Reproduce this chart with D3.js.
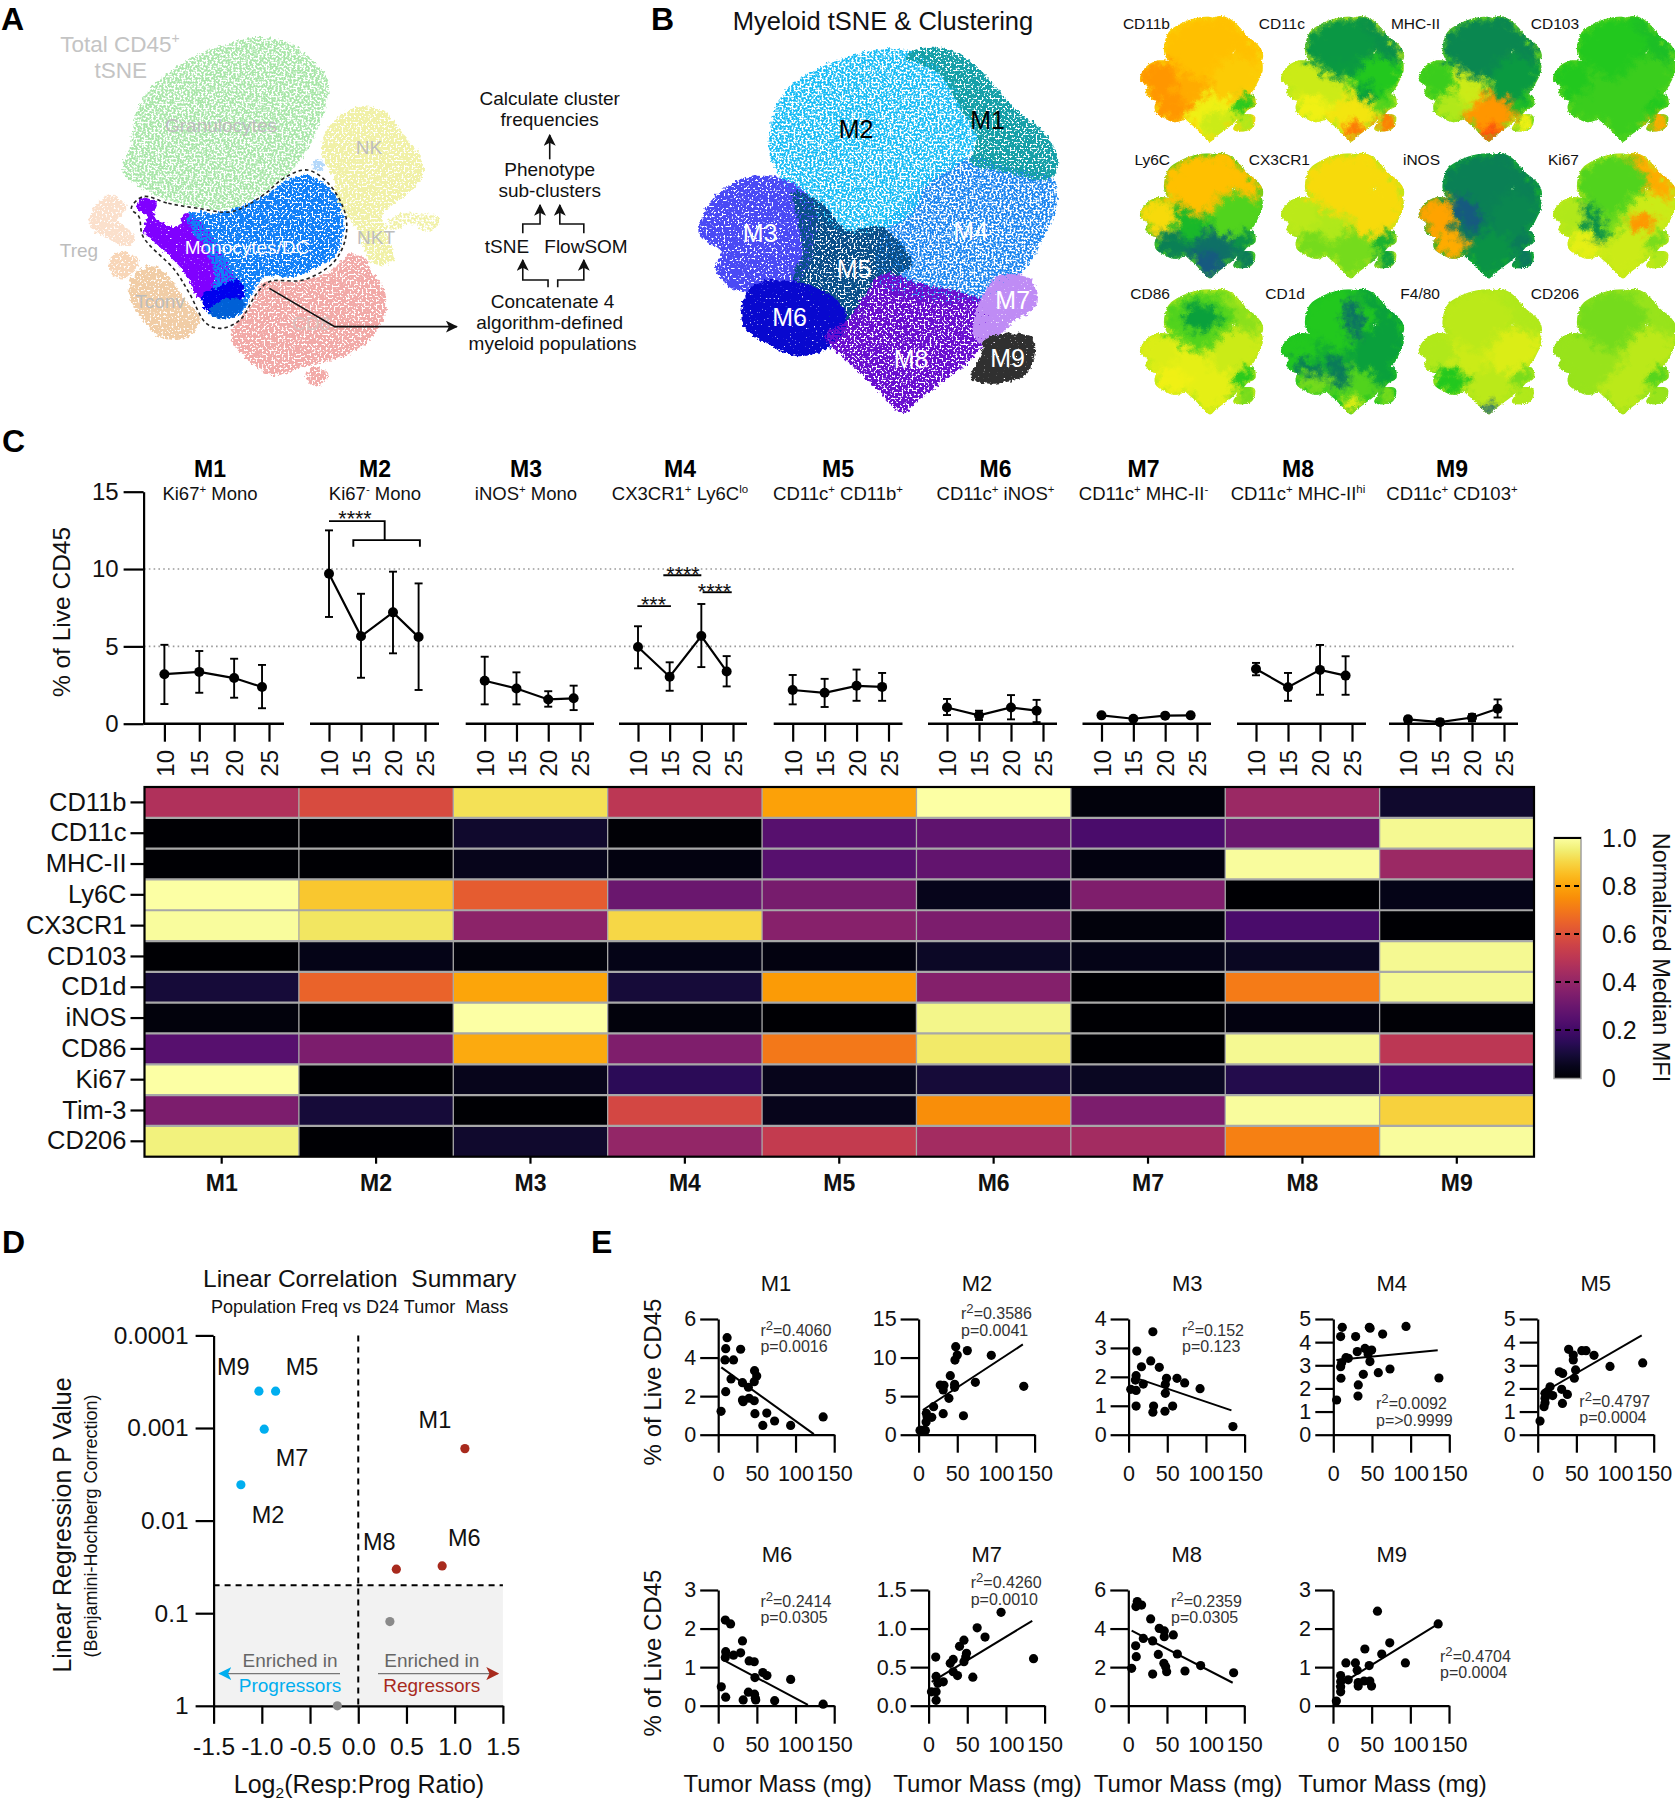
<!DOCTYPE html>
<html><head><meta charset="utf-8">
<script src="https://cdn.jsdelivr.net/npm/d3@7/dist/d3.min.js"></script>
<style>html,body{margin:0;background:#fff}svg{display:block}text{font-family:"Liberation Sans",Arial,sans-serif}</style>
</head><body><div id="chart"></div>
<script>
// ---------- DATA ----------
const clusters = ["M1","M2","M3","M4","M5","M6","M7","M8","M9"];
const subtitles = ["Ki67^+^ Mono","Ki67^-^ Mono","iNOS^+^ Mono","CX3CR1^+^ Ly6C^lo^","CD11c^+^ CD11b^+^","CD11c^+^ iNOS^+^","CD11c^+^ MHC-II^-^","CD11c^+^ MHC-II^hi^","CD11c^+^ CD103^+^"];
const doses = [10,15,20,24];
const doseTicks = [10,15,20,25];
const freqMean = [[3.2,3.35,2.95,2.37],[9.7,5.65,7.2,5.6],[2.78,2.28,1.57,1.64],[4.96,3.04,5.67,3.38],[2.18,2.0,2.45,2.38],[1.05,.54,1.05,.84],[.54,.32,.52,.54],[3.54,2.36,3.48,3.11],[.28,.1,.4,.97]];
const freqHi = [[5.1,4.7,4.2,3.8],[12.5,8.4,9.83,9.07],[4.33,3.32,2.1,2.46],[6.3,3.97,7.74,4.37],[3.15,2.9,3.5,3.28],[1.6,.84,1.85,1.54],[.62,.38,.58,.6],[3.93,3.28,5.09,4.36],[.45,.28,.62,1.57]];
const freqLo = [[1.27,2.0,1.68,1.0],[6.9,2.97,4.55,2.18],[1.25,1.25,1.1,.88],[3.58,2.13,3.66,2.41],[1.25,1.08,1.48,1.48],[.56,.24,.28,.1],[.46,.26,.46,.48],[3.13,1.48,1.87,1.87],[.06,-.05,.15,.4]];
const markers = ["CD11b","CD11c","MHC-II","Ly6C","CX3CR1","CD103","CD1d","iNOS","CD86","Ki67","Tim-3","CD206"];
const heatValues = [
 [.47,.58,.92,.5,.79,1,.02,.42,.08],
 [0,0,.08,.01,.25,.27,.22,.3,.98],
 [0,0,.05,.03,.25,.28,.03,.99,.42],
 [1,.87,.63,.3,.33,.05,.35,0,.04],
 [.99,.93,.38,.9,.37,.34,.02,.22,0],
 [0,.04,.02,.04,.03,.07,.04,.06,.98],
 [.1,.65,.8,.1,.78,.36,0,.71,.98],
 [.02,0,1,.02,0,.97,0,.03,.01],
 [.25,.34,.81,.35,.7,.94,0,.98,.5],
 [1,0,.05,.15,.05,.1,.06,.13,.2],
 [.34,.1,0,.57,.05,.75,.34,.99,.89],
 [.96,0,.08,.4,.52,.44,.44,.72,.99]];
const colorbarTicks = [0,.2,.4,.6,.8,1];
// Panel D
const volcanoBlue = [["M9",-1.03,.0004],["M5",-.857,.0004],["M7",-.975,.00103],["M2",-1.217,.0041]];
const volcanoRed = [["M1",1.106,.00167],["M8",.395,.0335],["M6",.87,.0309]];
const volcanoGrey = [["M3",.328,.123],["M4",-.217,1]];
const volcanoX = [-1.5,-1,-.5,0,.5,1,1.5];
const volcanoY = [1,.1,.01,.001,.0001];
const volcanoYLabels = ["1","0.1","0.01","0.001","0.0001"];
// Panel E
const scatterM1=[[3.7,1.21],[9.7,2.23],[8.8,3.88],[9.7,4.46],[11.5,5.03],[16.6,2.89],[19.8,3.88],[29,4.43],[31.4,2.7],[32.3,1.71],[31.4,1.8],[39,2.46],[40,1.89],[46.6,1.76],[47,3.32],[49.8,3.04],[46.6,2.75],[47.5,1.09],[57.7,.48],[62.8,1.12],[72.9,.71],[93.7,.48],[135.7,.92]];
const scatterM2=[[1.8,.56],[8.8,.56],[4,.56],[9.7,1.64],[11,2.33],[10,2.77],[17,2.25],[19.4,3.63],[28,6.44],[32.8,6.4],[31.8,5.8],[31.8,2.72],[39.2,4.71],[41,7.65],[46.6,6.14],[46.6,6.53],[47,9.68],[50,10.33],[48,11.41],[58,2.46],[63,10.9],[73.4,6.79],[94,10.29],[136,6.27]];
const scatterM3=[[2.8,1.57],[9.7,1.53],[9.7,.99],[9.7,2.04],[10.6,2.89],[8.8,1.89],[16.6,2.35],[19,1.75],[28.6,2.55],[31.4,3.56],[32.3,.99],[31.4,.78],[39.7,2.33],[47.5,1.43],[47.5,1.74],[49,1.95],[47,.81],[57,.99],[62.6,1.95],[72.5,1.79],[92.4,1.59],[134.9,.28]];
const scatterM4=[[4.3,1.5],[11.6,4.64],[9.5,4.24],[9.9,2.44],[9.5,2.94],[10.8,3.11],[16.4,3.33],[19.4,3.3],[28.9,4.24],[31,3.59],[32.3,2.15],[31.9,1.67],[38.8,2.61],[41,3.73],[46.6,4.64],[47.6,4.6],[47.4,3.16],[49.6,3.66],[58.2,2.68],[63.8,4.35],[73.3,2.84],[94,4.68],[136.6,2.45],[45,3.49]];
const scatterM5=[[3,.59],[8.2,1.21],[9.5,1.38],[9.5,1.57],[9.5,1.79],[12.5,1.86],[16,2.07],[19.4,1.69],[28,2.72],[32.3,2.65],[31,1.96],[32,1.35],[38.4,1.74],[40,3.69],[46,3.23],[46,3.44],[47.4,2.44],[49,2.8],[57,3.63],[62.5,3.63],[72.8,3.43],[93.5,2.95],[135.8,3.1]];
const scatterM6=[[4,.49],[9.7,.22],[9.2,2.22],[9.7,1.4],[9.2,1.25],[16,2.12],[19.8,1.31],[29,1.37],[31.4,1.68],[32.3,.15],[39,.35],[40,1.16],[46.6,1.14],[47,.3],[48.5,.15],[47.5,.73],[57.7,.86],[63,.78],[73,.13],[93.7,.68],[135.7,.04],[48,.19]];
const scatterM7=[[3.7,.18],[9.2,.63],[9.7,.38],[9.7,.07],[9.7,.18],[12,.29],[19,.31],[28,.55],[31.8,.6],[31.8,.44],[37.4,.39],[40,.77],[45.7,.85],[45.7,.57],[49,.68],[57.2,.37],[62.8,1.01],[73,.89],[93.7,1.21],[135.7,.61],[48,.63]];
const scatterM8=[[4.3,1.94],[9.5,3.11],[10.3,2.54],[9.9,5.14],[11.6,5.4],[17.2,5.22],[19.4,3.49],[28.9,4.5],[31.5,3.36],[31.5,1.64],[38.8,2.66],[40,4.01],[46.5,3.88],[46.5,3.58],[46,2.2],[48.3,2.02],[49.6,1.76],[58.2,3.67],[63.4,2.68],[73.3,1.8],[93.5,2.08],[136.2,1.71]];
const scatterM9=[[4.3,.12],[9.9,.36],[9.9,.49],[9.9,.62],[9.9,.78],[16.7,1.11],[19.7,.67],[29,1.11],[32.6,.6],[32.6,.51],[31.3,.92],[40.3,.64],[41.2,1.47],[46.8,1.04],[47.6,.64],[49.8,.51],[57.5,2.45],[63,1.34],[73.4,1.63],[93.6,1.11],[136,2.12]];
const scatterData=[scatterM1,scatterM2,scatterM3,scatterM4,scatterM5,scatterM6,scatterM7,scatterM8,scatterM9];
const regLines=[[4,3.49,123.7,.03],[5.5,3.2,134.8,11.7],[6,1.99,133,.84],[4,3.23,135,3.65],[4,1.77,134.5,4.29],[4.6,1.21,116,.02],[4,.31,134,1.1],[4.3,3.89,135,1.19],[4,.49,136,2.12]];
const yTickSets=[[0,2,4,6],[0,5,10,15],[0,1,2,3,4],[0,1,2,3,4,5],[0,1,2,3,4,5],[0,1,2,3],[0,.5,1,1.5],[0,2,4,6],[0,1,2,3]];
const statR=["0.4060","0.3586","0.152","0.0092","0.4797","0.2414","0.4260","0.2359","0.4704"];
const statP=["0.0016","0.0041","0.123",">0.9999","0.0004","0.0305","0.0010","0.0305","0.0004"];
const massTicks=[0,50,100,150];
// Panel A outlines
const outlineGranulocytes=[[590,115],[680,125],[740,180],[780,240],[775,310],[750,400],[735,440],[700,500],[650,560],[610,590],[560,625],[490,625],[400,600],[330,560],[290,510],[310,440],[325,330],[360,260],[420,200],[490,150],[560,125]];
const outlineNK=[[860,318],[920,340],[955,400],[1000,470],[1005,530],[960,590],[910,640],[920,700],[935,780],[890,795],[870,760],[850,690],[810,620],[790,530],[765,450],[780,380],[820,335]];
const outlineNKT=[[950,640],[990,640],[1040,650],[1040,680],[1010,695],[980,670],[940,690],[915,680]];
const outlineCD8=[[830,760],[870,780],[880,810],[915,880],[910,960],[860,1040],[790,1080],[720,1100],[650,1125],[590,1080],[548,1010],[600,910],[625,850],[700,845],[790,810]];
const outlineCD8b=[[745,1100],[780,1125],[755,1160],[725,1130]];
const outlineTconv=[[360,795],[400,830],[440,900],[475,960],[440,1015],[380,1010],[340,960],[310,900],[310,840]];
const outlineTreg=[[260,585],[300,620],[280,660],[320,710],[300,740],[250,710],[215,680],[220,630]];
const outlineTregB=[[290,755],[330,780],[295,835],[265,820],[265,770]];
const outlineBlue=[[730,525],[785,565],[815,650],[800,760],[740,810],[700,830],[630,830],[600,880],[575,940],[530,950],[500,900],[510,830],[490,750],[450,680],[450,640],[520,640],[570,620],[640,580],[680,540]];
const outlinePurple=[[340,595],[372,610],[365,650],[420,680],[440,640],[490,680],[520,740],[540,790],[560,840],[520,880],[470,890],[445,830],[420,790],[370,730],[340,690],[350,650],[325,625]];
const outlineDarkBlue=[[480,885],[520,860],[570,840],[578,890],[530,910],[505,945],[485,920]];
const outlineMidBlue=[[495,935],[530,898],[582,905],[560,948],[510,952]];
const outlinePale=[[755,475],[770,495],[755,515],[742,495]];
const outlineDashed=[[340,590],[400,610],[470,625],[550,635],[620,590],[680,530],[730,510],[780,550],[820,640],[820,720],[790,790],[720,840],[640,845],[610,880],[570,960],[525,985],[490,970],[450,880],[415,810],[340,710],[330,650],[312,625]];
// Panel B outlines
const bClusters={
 M4:[[480,470],[540,500],[605,530],[612,620],[590,720],[570,790],[540,850],[500,900],[400,900],[340,850],[340,700],[380,600],[420,520]],
 M2:[[320,155],[380,150],[430,200],[470,300],[490,420],[470,480],[410,560],[390,640],[340,690],[290,700],[240,650],[200,570],[170,470],[170,390],[190,280],[240,210]],
 M1:[[420,140],[470,170],[510,240],[545,320],[590,390],[615,480],[605,535],[520,510],[480,490],[490,420],[465,330],[430,220],[380,170]],
 M3:[[140,530],[200,545],[240,620],[240,720],[230,800],[200,870],[110,865],[85,800],[95,760],[60,700],[65,650],[90,580]],
 M5:[[205,575],[250,610],[290,690],[340,680],[390,790],[350,850],[330,900],[300,990],[265,960],[230,880],[205,830],[220,760],[215,680]],
 M6:[[150,850],[240,860],[285,930],[285,1000],[255,1050],[210,1068],[170,1035],[130,980],[128,910]],
 M8:[[345,820],[400,850],[470,880],[505,910],[505,1000],[490,1060],[440,1140],[400,1200],[375,1240],[340,1180],[310,1120],[265,1040],[255,1005],[290,960],[315,890]],
 M7:[[520,830],[572,835],[580,920],[545,965],[505,1040],[485,1010],[490,920],[505,870]],
 M9:[[505,1015],[575,1012],[578,1070],[560,1130],[500,1150],[480,1130],[495,1070]]};
const bColors={M2:"#19bcf5",M1:"#16a0a8",M4:"#1b85f0",M3:"#4a4af5",M5:"#0a4f8a",M6:"#0808cf",M8:"#6a0fd0",M7:"#bf8cf5",M9:"#303030"};
const bSpeckle={M2:"speckleHeavy",M1:"speckleMid",M4:"speckleHeavy",M3:"speckleLight",M5:"speckleMid",M6:"speckleSolid",M8:"speckleMid",M7:"speckleSolid",M9:"speckleSolid"};
const miniNames=["CD11b","CD11c","MHC-II","CD103","Ly6C","CX3CR1","iNOS","Ki67","CD86","CD1d","F4/80","CD206"];
const miniValues=[
 [.75,.75,.85,.72,.8,.85,.38,.62,.5],
 [.25,.27,.55,.38,.55,.62,.42,.65,.9],
 [.22,.22,.4,.28,.55,.5,.35,.85,.62],
 [.36,.38,.38,.4,.4,.4,.38,.4,.8],
 [.75,.75,.68,.42,.35,.2,.25,.15,.18],
 [.68,.68,.52,.68,.5,.45,.33,.45,.3],
 [.2,.2,.82,.22,.18,.8,.18,.26,.17],
 [.8,.42,.5,.55,.45,.6,.45,.55,.5],
 [.47,.42,.58,.55,.6,.62,.38,.6,.45],
 [.3,.38,.38,.3,.33,.45,.3,.42,.45],
 [.5,.52,.5,.58,.55,.38,.45,.52,.5],
 [.48,.45,.48,.52,.48,.48,.42,.52,.48]];
// Local features of the marker maps: [map name, value, outline]
const miniPatches=[
 ["Ly6C",.08,[[300,1040],[420,1040],[400,1240],[340,1200]]],
 ["MHC-II",.98,[[340,1130],[440,1130],[380,1240]]],
 ["F4/80",.08,[[340,1170],[420,1170],[380,1240]]],
 ["CD11c",.3,[[400,750],[470,750],[480,860],[410,870]]],
 ["CD11c",.28,[[250,560],[420,560],[400,640],[270,650]]],
 ["CD11c",.92,[[350,1100],[440,1100],[380,1230]]],
 ["CD1d",.16,[[350,240],[400,240],[420,560],[370,560]]],
 ["CD1d",.18,[[280,740],[340,740],[360,1000],[300,1000]]],
 ["CD1d",.2,[[120,760],[200,760],[240,900],[160,900]]],
 ["CD1d",.62,[[340,1120],[420,1120],[380,1230]]],
 ["CD86",.3,[[260,300],[400,300],[400,480],[270,480]]],
 ["Ki67",.25,[[190,600],[240,600],[300,900],[250,900]]],
 ["Ki67",.85,[[400,700],[520,700],[500,800],[420,800]]],
 ["CD11b",.55,[[360,1000],[480,1000],[420,1220],[360,1200]]],
 ["iNOS",.08,[[220,560],[300,560],[340,800],[280,800]]]];

// ---------- SETUP ----------
const W=1675,H=1800;
const svg=d3.select("#chart").append("svg").attr("width",W).attr("height",H).attr("viewBox",`0 0 ${W} ${H}`);
const defs=svg.append("defs");
const FONT_BLACK="#111";
function txt(p,x,y,str,size,o={}){
  const t=p.append("text").attr("x",x).attr("y",y).attr("font-size",size).attr("text-anchor",o.anchor||"middle")
   .attr("fill",o.fill||FONT_BLACK).attr("font-weight",o.bold?"bold":null);
  if(o.rotate!==undefined) t.attr("transform",`rotate(${o.rotate},${x},${y})`);
  const supScale=o.supScale||.62;
  str.split(/(\^[^^]*\^|~[^~]*~)/).filter(s=>s.length).reduce((back,part)=>{
    const sup=part[0]==="^",sub=part[0]==="~";
    const ts=t.append("tspan");
    let dy=back;
    if(sup){ts.text(part.slice(1,-1)).attr("font-size",size*supScale);dy+=-size*.38;back=size*.38;}
    else if(sub){ts.text(part.slice(1,-1)).attr("font-size",size*.62);dy+=size*.2;back=-size*.2;}
    else{ts.text(part);back=0;}
    if(dy) ts.attr("dy",dy);
    return back;
  },0);
  return t;
}
function speckle(id,k,c,seed){
  const f=defs.append("filter").attr("id",id).attr("x","-3%").attr("y","-3%").attr("width","106%").attr("height","106%").attr("color-interpolation-filters","sRGB");
  f.append("feTurbulence").attr("type","fractalNoise").attr("baseFrequency",.28).attr("numOctaves",2).attr("seed",seed+7).attr("result","warp");
  f.append("feDisplacementMap").attr("in","SourceGraphic").attr("in2","warp").attr("scale",7).attr("xChannelSelector","R").attr("yChannelSelector","G").attr("result","rough");
  f.append("feTurbulence").attr("type","fractalNoise").attr("baseFrequency",.5).attr("numOctaves",1).attr("seed",seed).attr("result","n");
  f.append("feColorMatrix").attr("in","n").attr("type","matrix").attr("values",`0 0 0 0 0 0 0 0 0 0 0 0 0 0 0 ${k} 0 0 0 ${c}`).attr("result","mask");
  f.append("feComposite").attr("in","rough").attr("in2","mask").attr("operator","in");
}
speckle("speckleHeavy",12,-5.3,3);
speckle("speckleMid",12,-4.6,5);
speckle("speckleLight",12,-3.9,8);
speckle("speckleSolid",12,-2.6,11);
const mkArrow=(id,col,s)=>defs.append("marker").attr("id",id).attr("viewBox","0 0 10 10").attr("refX",9).attr("refY",5)
  .attr("markerUnits","userSpaceOnUse").attr("markerWidth",s).attr("markerHeight",s).attr("orient","auto")
  .append("path").attr("d","M0,0L10,5L0,10L2.5,5Z").attr("fill",col);
mkArrow("arrBlack","#111",12);mkArrow("arrBlue","#00aeef",13);mkArrow("arrRed","#a82a1d",13);
// panel letters
[["A",1,30],["B",651,30],["C",2,452],["D",2,1253],["E",591,1253]].forEach(d=>txt(svg,d[1],d[2],d[0],32,{anchor:"start",bold:true,fill:"#000"}));

// ---------- PANEL A ----------
const gA=svg.append("g");
const xA=d3.scaleLinear([0,1568],[0,660]),yA=d3.scaleLinear([0,1260],[0,420]);
const lineA=d3.line().x(d=>xA(d[0])).y(d=>yA(d[1])).curve(d3.curveCatmullRomClosed.alpha(.5));
[[outlineGranulocytes,"#a9e6a9","speckleHeavy"],[outlineNK,"#f1f1a8","speckleMid"],[outlineNKT,"#f1f1a8","speckleHeavy"],[outlineCD8,"#f2aaa8","speckleMid"],[outlineCD8b,"#f2aaa8","speckleMid"],
 [outlineTconv,"#f1cda6","speckleLight"],[outlineTreg,"#fbe0cc","speckleLight"],[outlineTregB,"#f8d6b8","speckleLight"],[outlinePale,"#b4d8fa","speckleLight"],
 [outlinePurple,"#8000ff","speckleSolid"],[outlineBlue,"#1280f8","speckleMid"],[outlineDarkBlue,"#0000ee","speckleSolid"],[outlineMidBlue,"#0060d6","speckleSolid"]]
 .forEach(d=>gA.append("path").attr("d",lineA(d[0])).attr("fill",d[1]).attr("filter",`url(#${d[2]})`));
gA.append("path").attr("d",lineA(outlineDashed)).attr("fill","none").attr("stroke","#222").attr("stroke-width",1.6).attr("stroke-dasharray","3.5 3");
[["Total CD45^+^",120,52,22.5,"#c4c4c4"],["tSNE",120.8,78,22.5,"#c4c4c4"],["Granulocytes",221,131.7,19,"#bdbdbd"],["NK",369,154,19,"#bdbdbd"],["NKT",376,244,19,"#bdbdbd"],
 ["Treg",79,257,19,"#bdbdbd"],["Tconv",160,308,19,"#bdbdbd"],["CD8",311,330,19,"#d9c0bd"],["Monocytes/DC",247,254,19,"#fff"]]
 .forEach(d=>txt(gA,d[1],d[2],d[0],d[3],{fill:d[4]}));
[["Calculate cluster",549.7,105],["frequencies",549.7,126],["Phenotype",549.7,175.7],["sub-clusters",549.7,196.7],["tSNE",507,253],["FlowSOM",586,253],["Concatenate 4",552.6,307.7],["algorithm-defined",549.7,329.3],["myeloid populations",552.6,350]]
 .forEach(d=>txt(gA,d[1],d[2],d[0],19));
const lineOpen=d3.line().x(d=>xA(d[0])).y(d=>yA(d[1]));
[[[1306,478],[1306,405]],[[1242,700],[1242,672],[1283,672],[1283,615]],[[1387,700],[1387,672],[1330,672],[1330,615]],[[1302,862],[1302,840],[1242,840],[1242,780]],[[1325,862],[1325,840],[1387,840],[1387,780]],[[640,865],[795,980],[1085,980]]]
 .forEach(d=>gA.append("path").attr("d",lineOpen(d)).attr("fill","none").attr("stroke","#111").attr("stroke-width",1.6).attr("marker-end","url(#arrBlack)"));

// ---------- PANEL B ----------
const gB=svg.append("g");
const xB=d3.scaleLinear([0,1015*1.545],[660,1675]),yB=d3.scaleLinear([0,1260],[0,420]);
const lineB=d3.line().x(d=>xB(d[0])).y(d=>yB(d[1])).curve(d3.curveCatmullRomClosed.alpha(.5));
const bOrder=["M4","M2","M1","M3","M5","M6","M8","M7","M9"];
bOrder.forEach(k=>gB.append("path").attr("d",lineB(bClusters[k])).attr("fill",bColors[k]).attr("filter",`url(#${bSpeckle[k]})`));
txt(gB,883,30,"Myeloid tSNE & Clustering",25.5);
[["M2",856,138,"#000"],["M1",987.5,129,"#000"],["M3",760,241.7,"#fff"],["M4",970.7,240,"#fff"],["M5",854,277.7,"#fff"],["M6",789.5,325.7,"#fff"],["M7",1012.7,309,"#fff"],["M8",911,367.7,"#fff"],["M9",1007.6,367,"#fff"]]
 .forEach(d=>txt(gB,d[1],d[2],d[0],25,{fill:d[3]}));
// mini phenotype maps
const rainbow=d3.scaleLinear().domain([0,.18,.3,.38,.5,.62,.75,.88,1]).range(["#1f3f9f","#0a7a5a","#0aa03c","#22c81e","#b0e81a","#f0f014","#ffc000","#ff8a00","#ff4010"]);
const clipMini=defs.append("clipPath").attr("id","miniClip");
bOrder.forEach(k=>clipMini.append("path").attr("d",lineB(bClusters[k])));
const fm=defs.append("filter").attr("id","miniBlur").attr("filterUnits","userSpaceOnUse").attr("x",660).attr("y",0).attr("width",500).attr("height",460).attr("color-interpolation-filters","sRGB");
fm.append("feGaussianBlur").attr("in","SourceGraphic").attr("stdDeviation",11).attr("result","b");
fm.append("feTurbulence").attr("type","fractalNoise").attr("baseFrequency",.04).attr("numOctaves",4).attr("seed",4).attr("result","t");
fm.append("feDisplacementMap").attr("in","b").attr("in2","t").attr("scale",60).attr("xChannelSelector","R").attr("yChannelSelector","G");
const fr=defs.append("filter").attr("id","miniRough").attr("filterUnits","userSpaceOnUse").attr("x",660).attr("y",0).attr("width",500).attr("height",460).attr("color-interpolation-filters","sRGB");
fr.append("feTurbulence").attr("type","fractalNoise").attr("baseFrequency",.25).attr("numOctaves",2).attr("seed",9).attr("result","t");
fr.append("feDisplacementMap").attr("in","SourceGraphic").attr("in2","t").attr("scale",9).attr("xChannelSelector","R").attr("yChannelSelector","G");
const miniColX=[1140,1281,1418.6,1553],miniRowY=[16,152.7,288.7],miniScale=.343;
const miniLabelRight=[[1170,1305,1440,1579],[1170,1310,1440,1579],[1170,1305,1440,1579]],miniLabelY=[29,165,299];
miniNames.forEach((name,i)=>{
  const c=i%4,r=Math.floor(i/4);
  const g=svg.append("g").attr("transform",`translate(${miniColX[c]-miniScale*xB(60)},${miniRowY[r]-miniScale*yB(140)}) scale(${miniScale})`);
  const clip=g.append("g").attr("filter","url(#miniRough)").append("g").attr("clip-path","url(#miniClip)");
  clip.append("rect").attr("x",660).attr("y",0).attr("width",500).attr("height",460).attr("fill",rainbow(d3.mean(miniValues[i])));
  const inner=clip.append("g").attr("filter","url(#miniBlur)");
  bOrder.forEach(k=>inner.append("path").attr("d",lineB(bClusters[k])).attr("fill",rainbow(miniValues[i][clusters.indexOf(k)])));
  miniPatches.filter(p=>p[0]===name).forEach(p=>inner.append("path").attr("d",lineB(p[2])).attr("fill",rainbow(p[1])));
  txt(svg,miniLabelRight[r][c],miniLabelY[r],name,15.5,{anchor:"end"});
});

// ---------- PANEL C, line plots ----------
const gC=svg.append("g");
const yC=d3.scaleLinear([0,15],[723.7,491.7]);
const groupRange=[[164.4,269],[329,425],[484.7,580],[638,733],[792.7,888.5],[947,1043],[1101.5,1197],[1256,1352],[1408,1504]];
const groupX=groupRange.map(r=>d3.scaleLinear([10,25],r));
const headX=[210,375,526,680,838,995.5,1143.5,1298,1452];
[5,10].forEach(v=>gC.append("line").attr("x1",144).attr("x2",1515).attr("y1",yC(v)).attr("y2",yC(v)).attr("stroke","#9a9a9a").attr("stroke-width",1.6).attr("stroke-dasharray","1.6 3.2"));
const axisStyle=g=>{g.selectAll("path,line").attr("stroke","#000").attr("stroke-width",2.2);g.selectAll("text").attr("fill",FONT_BLACK);};
gC.append("g").attr("transform","translate(143.6,0)").call(d3.axisLeft(yC).tickValues([0,5,10,15]).tickSize(20).tickSizeOuter(0).tickPadding(5)).attr("font-size",24).attr("font-family",null).call(axisStyle);
txt(gC,70,612,"% of Live CD45",24.5,{rotate:-90});
clusters.forEach((m,i)=>{
  const x=groupX[i];
  txt(gC,headX[i],476.7,m,23,{bold:true,fill:"#000"});
  txt(gC,headX[i],500,subtitles[i],18.5);
  const g=gC.append("g");
  const ax=g.append("g").attr("transform",`translate(0,${yC(0)})`).call(d3.axisBottom(x).tickValues(doseTicks).tickSize(18).tickSizeOuter(0)).attr("font-size",24).attr("font-family",null).call(axisStyle);
  ax.select(".domain").remove();
  ax.selectAll("text").attr("text-anchor","end").attr("dy",".36em").attr("x",0).attr("y",0).attr("transform","translate(0,26.3) rotate(-90)");
  g.append("line").attr("x1",i===0?143.6:x(10)-19).attr("x2",i===0?284:x(25)+14).attr("y1",yC(0)).attr("y2",yC(0)).attr("stroke","#000").attr("stroke-width",2.6);
  const pts=doses.map((d,j)=>({d,m:freqMean[i][j],hi:freqHi[i][j],lo:freqLo[i][j]}));
  pts.forEach(p=>{
    g.append("line").attr("x1",x(p.d)).attr("x2",x(p.d)).attr("y1",yC(p.hi)).attr("y2",yC(p.lo)).attr("stroke","#000").attr("stroke-width",1.9);
    [p.hi,p.lo].forEach(v=>g.append("line").attr("x1",x(p.d)-4).attr("x2",x(p.d)+4).attr("y1",yC(v)).attr("y2",yC(v)).attr("stroke","#000").attr("stroke-width",1.9));
  });
  g.append("path").attr("d",d3.line().x(p=>x(p.d)).y(p=>yC(p.m))(pts)).attr("fill","none").attr("stroke","#000").attr("stroke-width",2.2);
  g.selectAll("circle").data(pts).join("circle").attr("cx",p=>x(p.d)).attr("cy",p=>yC(p.m)).attr("r",5).attr("fill","#000");
});
// significance annotations
const lineSig=d3.line().x(d=>groupX[d[0]](d[1])).y(d=>yC(d[2]));
[[[1,10,13.1],[1,18.7,13.1],[1,18.7,11.87]],[[1,13.8,11.44],[1,13.8,11.87],[1,24.2,11.87],[1,24.2,11.44]],[[3,9.9,7.6],[3,15.2,7.6]],[[3,14,9.6],[3,20,9.6]],[[3,20.2,8.5],[3,24.8,8.5]]]
 .forEach(d=>gC.append("path").attr("d",lineSig(d)).attr("fill","none").attr("stroke","#000").attr("stroke-width",1.9));
[["****",355,526],["***",653.5,612],["****",683,581.5],["****",714.5,599]].forEach(d=>txt(gC,d[1],d[2],d[0],21.5));

// ---------- HEATMAP ----------
const gH=svg.append("g");
const hx=d3.scaleBand(clusters,[144.5,1534]),hy=d3.scaleBand(markers,[787,1156.7]);
markers.forEach((r,ri)=>clusters.forEach((c,ci)=>gH.append("rect").attr("x",hx(c)).attr("y",hy(r)).attr("width",hx.bandwidth()).attr("height",hy.bandwidth()).attr("fill",d3.interpolateInferno(heatValues[ri][ci]))));
markers.slice(1).forEach(r=>gH.append("line").attr("x1",144.5).attr("x2",1534).attr("y1",hy(r)).attr("y2",hy(r)).attr("stroke","#a8a8a8").attr("stroke-width",2.2));
clusters.slice(1).forEach(c=>gH.append("line").attr("y1",787).attr("y2",1156.7).attr("x1",hx(c)).attr("x2",hx(c)).attr("stroke","#a8a8a8").attr("stroke-width",1.3));
gH.append("rect").attr("x",144.5).attr("y",787).attr("width",1534-144.5).attr("height",1156.7-787).attr("fill","none").attr("stroke","#000").attr("stroke-width",2.2);
const hl=gH.append("g").attr("transform","translate(144.5,0)").call(d3.axisLeft(hy).tickSize(14).tickSizeOuter(0).tickPadding(4)).attr("font-size",25.5).attr("font-family",null).call(axisStyle);
hl.select(".domain").remove();
const hb=gH.append("g").attr("transform","translate(0,1156.7)").call(d3.axisBottom(hx).tickSize(7).tickSizeOuter(0).tickPadding(11)).attr("font-size",23).attr("font-family",null).attr("font-weight","bold").call(axisStyle);
hb.select(".domain").remove();
// colour bar
const cbY=d3.scaleLinear([0,1],[1078,838]);
const grad=defs.append("linearGradient").attr("id","infernoGrad").attr("x1",0).attr("x2",0).attr("y1",1).attr("y2",0);
d3.range(0,1.001,.05).forEach(t=>grad.append("stop").attr("offset",t).attr("stop-color",d3.interpolateInferno(t)));
gH.append("rect").attr("x",1554).attr("y",837.5).attr("width",27).attr("height",241).attr("fill","url(#infernoGrad)").attr("stroke","#a0a0a0").attr("stroke-width",1.5);
gH.append("line").attr("x1",1554).attr("x2",1581).attr("y1",cbY(1)).attr("y2",cbY(1)).attr("stroke","#000").attr("stroke-width",2);
colorbarTicks.slice(1,-1).forEach(v=>gH.append("line").attr("x1",1556).attr("x2",1581).attr("y1",cbY(v)).attr("y2",cbY(v)).attr("stroke","#000").attr("stroke-width",1.8).attr("stroke-dasharray","5 4"));
colorbarTicks.forEach(v=>txt(gH,1602,cbY(v)+8.5,v===0?"0":v.toFixed(1),25,{anchor:"start"}));
txt(gH,1653,957.5,"Normalized Median MFI",23.5,{rotate:90});

// ---------- PANEL D ----------
const gD=svg.append("g");
const xD=d3.scaleLinear([-1.5,1.5],[213.6,502.9]),yD=d3.scaleLog([1,.0001],[1705.8,1335.4]);
gD.append("rect").attr("x",xD(-1.5)).attr("y",yD(.05)).attr("width",xD(1.5)-xD(-1.5)).attr("height",yD(1)-yD(.05)).attr("fill","#f2f2f2");
gD.append("g").attr("transform",`translate(0,${yD(1)})`).call(d3.axisBottom(xD).tickValues(volcanoX).tickFormat(d=>d3.format(".1f")(d).replace("\u2212","-")).tickSize(18).tickSizeOuter(0).tickPadding(14)).attr("font-size",24.5).attr("font-family",null).call(axisStyle);
gD.append("g").attr("transform",`translate(${xD(-1.5)},0)`).call(d3.axisLeft(yD).tickValues(volcanoY).tickFormat((d,i)=>volcanoYLabels[i]).tickSize(18).tickSizeOuter(0).tickPadding(7)).attr("font-size",24.5).attr("font-family",null).call(axisStyle);
gD.append("line").attr("x1",xD(-1.5)).attr("x2",xD(1.5)).attr("y1",yD(.05)).attr("y2",yD(.05)).attr("stroke","#000").attr("stroke-width",2).attr("stroke-dasharray","6 5");
gD.append("line").attr("x1",xD(0)).attr("x2",xD(0)).attr("y1",yD(.0001)).attr("y2",yD(1)).attr("stroke","#000").attr("stroke-width",2).attr("stroke-dasharray","6 5");
[[volcanoBlue,"#00aeef"],[volcanoRed,"#a82a1d"],[volcanoGrey,"#8a8a8a"]].forEach(s=>s[0].forEach(d=>gD.append("circle").attr("cx",xD(d[1])).attr("cy",yD(d[2])).attr("r",4.6).attr("fill",s[1])));
[["M9",217,1375],["M5",285.7,1375],["M1",418.6,1428],["M7",275.7,1466],["M2",251.8,1523],["M8",362.9,1550.4],["M6",448,1546]].forEach(d=>txt(gD,d[1],d[2],d[0],23.5,{anchor:"start"}));
txt(gD,359.6,1286.6,"Linear Correlation\u00a0 Summary",24.5);
txt(gD,359.6,1312.5,"Population Freq vs D24 Tumor \u00a0Mass",18);
txt(gD,71.4,1525,"Linear Regression P Value",25,{rotate:-90});
txt(gD,97,1526,"(Benjamini-Hochberg Correction)",18,{rotate:-90});
txt(gD,359,1793,"Log~2~(Resp:Prog Ratio)",25);
txt(gD,290,1666.5,"Enriched in",19,{fill:"#666"});txt(gD,431.8,1666.5,"Enriched in",19,{fill:"#666"});
txt(gD,290,1692.4,"Progressors",19,{fill:"#00aeef"});txt(gD,431.8,1692.4,"Regressors",19,{fill:"#a82a1d"});
gD.append("line").attr("x1",340).attr("x2",219.6).attr("y1",1673.6).attr("y2",1673.6).attr("stroke","#777").attr("stroke-width",1.3).attr("marker-end","url(#arrBlue)");
gD.append("line").attr("x1",378).attr("x2",498).attr("y1",1673.6).attr("y2",1673.6).attr("stroke","#777").attr("stroke-width",1.3).attr("marker-end","url(#arrRed)");

// ---------- PANEL E ----------
const gE=svg.append("g");
const scatterAxisX=[718.2,918.6,1128.6,1333.3,1537.7,718.2,928.6,1128.3,1333];
const scatterTitleX=[776,977,1187.3,1391.7,1595.7,777,986.8,1186.7,1391.7];
const statLeft=[760.4,961,1182,1376,1579.3,760.4,970.7,1171,1440];
const statBase=[1336,1319.3,1336,1409.3,1407,1606.7,1588.3,1606.7,1661.7];
const massLabelX=[null,null,null,null,null,777.7,987.5,1188,1392.5];
clusters.forEach((m,i)=>{
  const row2=i>=5,top=row2?1590:1319,bot=row2?1705.7:1434.7;
  const x=d3.scaleLinear([0,150],[scatterAxisX[i],scatterAxisX[i]+116]);
  const ticks=yTickSets[i];
  const y=d3.scaleLinear([0,d3.max(ticks)],[bot,top]);
  const g=gE.append("g");
  g.append("g").attr("transform",`translate(0,${bot})`).call(d3.axisBottom(x).tickValues(massTicks).tickSize(18).tickSizeOuter(0).tickPadding(13)).attr("font-size",21.5).attr("font-family",null).call(axisStyle);
  g.append("g").attr("transform",`translate(${x(0)},0)`).call(d3.axisLeft(y).tickValues(ticks).tickFormat(i===6?d3.format(".1f"):d3.format("d")).tickSize(18).tickSizeOuter(0).tickPadding(4)).attr("font-size",21.5).attr("font-family",null).call(axisStyle);
  g.selectAll("circle").data(scatterData[i]).join("circle").attr("cx",d=>x(d[0])).attr("cy",d=>y(d[1])).attr("r",4.6).attr("fill","#000");
  const r=regLines[i];
  g.append("line").attr("x1",x(r[0])).attr("y1",y(r[1])).attr("x2",x(r[2])).attr("y2",y(r[3])).attr("stroke","#000").attr("stroke-width",2);
  txt(g,scatterTitleX[i],row2?1561.7:1291,m,22);
  txt(g,statLeft[i],statBase[i],`r^2^=${statR[i]}`,16,{anchor:"start",fill:"#333",supScale:.82});
  txt(g,statLeft[i],statBase[i]+16.3,`p=${statP[i]}`,16,{anchor:"start",fill:"#333"});
  if(row2) txt(g,massLabelX[i],1791.7,"Tumor Mass (mg)",24);
});
txt(gE,661,1382,"% of Live CD45",24,{rotate:-90});
txt(gE,661,1653,"% of Live CD45",24,{rotate:-90});
</script></body></html>
